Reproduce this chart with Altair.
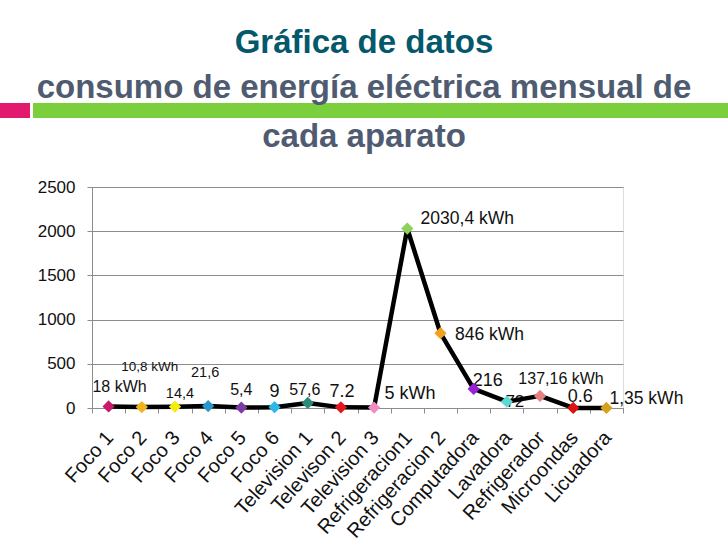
import altair as alt
import pandas as pd

# Monthly electricity use per appliance (kWh)
aparatos = ["Foco 1", "Foco 2", "Foco 3", "Foco 4", "Foco 5", "Foco 6",
            "Television 1", "Televison 2", "Television 3", "Refrigeracion1",
            "Refrigeracion 2", "Computadora", "Lavadora", "Refrigerador",
            "Microondas", "Licuadora"]
consumo = [18, 10.8, 14.4, 21.6, 5.4, 9, 57.6, 7.2, 5, 2030.4,
           846, 216, 72, 137.16, 0.6, 1.35]
etiquetas = ["18 kWh", "10,8 kWh", "14,4", "21,6", "5,4", "9", "57,6", "7.2",
             "5 kWh", "2030,4 kWh", "846 kWh", "216", "72", "137,16 kWh",
             "0.6", "1,35 kWh"]
y_ticks = [0, 500, 1000, 1500, 2000, 2500]

# Marker fill per appliance
marker_colors = ["#c8196f", "#f2b21e", "#f4ec10", "#2b97c4", "#7b3ca3", "#2cb6ea",
                 "#2a8a78", "#e0171c", "#f08cc0", "#8fd05a", "#f3a11c", "#9a1fd6",
                 "#5ed8d2", "#e48080", "#dc1212", "#d4a21e"]

# Label placement relative to its marker: (dx, dy, font size)
label_style = [(11, -19, 16), (8, -40, 13.5), (5, -13, 14.5), (-3, -33, 14.5),
               (0, -18, 16), (0, -15, 18), (-3, -13, 16), (1, -15, 18),
               (36, -14, 18), (60, -10, 17.5), (49, 2, 17.5), (14, -8, 18),
               (8, 0, 17), (21, -17, 16), (7, -11, 18), (40, -9, 17.5)]

df = pd.DataFrame({"aparato": aparatos, "kwh": consumo,
                   "etiqueta": etiquetas, "color": marker_colors})

FONT = "Liberation Sans"

x_enc = alt.X("aparato:N", sort=aparatos,
              scale=alt.Scale(type="band", paddingInner=0, paddingOuter=0),
              axis=alt.Axis(title=None, labelAngle=-48, labelFontSize=20,
                            labelFont=FONT, labelColor="#111111",
                            labelPadding=21, labelOffset=1,
                            tickBand="extent", tickSize=5,
                            tickColor="#8c8c8c", domainColor="#8c8c8c",
                            labelOverlap=False, grid=False))
y_enc = alt.Y("kwh:Q", scale=alt.Scale(domain=[0, 2500], nice=False),
              axis=alt.Axis(title=None, values=y_ticks, labelFontSize=17,
                            labelFont=FONT, labelColor="#111111",
                            labelPadding=12, tickSize=5, tickColor="#8c8c8c",
                            domainColor="#8c8c8c", gridColor="#8c8c8c",
                            gridOpacity=1, format="d"))

base = alt.Chart(df)

labels = []
for name, (dx, dy, fs) in zip(aparatos, label_style):
    labels.append(
        base.transform_filter(alt.datum.aparato == name)
        .mark_text(dx=dx, dy=dy, fontSize=fs, font=FONT, color="#111111")
        .encode(x=x_enc, y=y_enc, text="etiqueta:N")
    )

line = base.mark_line(color="#000000", strokeWidth=4.5, strokeJoin="round").encode(
    x=x_enc, y=y_enc)
points = base.mark_point(shape="diamond", filled=True, size=150, opacity=1).encode(
    x=x_enc, y=y_enc, color=alt.Color("color:N", scale=None))

# Header band and title lines
one = alt.Chart(pd.DataFrame({"k": [0]}))
band_pink = one.mark_rect(color="#e2196f").encode(
    x=alt.value(-92), x2=alt.value(-62), y=alt.value(-84), y2=alt.value(-69))
band_green = one.mark_rect(color="#7ccf3c").encode(
    x=alt.value(-59), x2=alt.value(636), y=alt.value(-84), y2=alt.value(-69))

title_lines = [("Gráfica de datos", -134, "#04586b"),
               ("consumo de energía eléctrica mensual de", -89, "#4f5b70"),
               ("cada aparato", -40, "#4f5b70")]
titles = []
for txt, yy, col in title_lines:
    titles.append(
        one.mark_text(text=txt, font=FONT, fontSize=33, fontWeight="bold",
                      color=col, align="center", baseline="alphabetic")
        .encode(x=alt.value(272), y=alt.value(yy))
    )

chart = alt.layer(band_pink, band_green, *titles, *labels, line, points).properties(
    width=531, height=221,
    autosize=alt.AutoSizeParams(type="none"),
    padding={"left": 92, "top": 187, "right": 105, "bottom": 138},
).configure_view(stroke=None).configure(background="white")

chart.save("out.html", embed_options={"renderer": "svg", "actions": False})
